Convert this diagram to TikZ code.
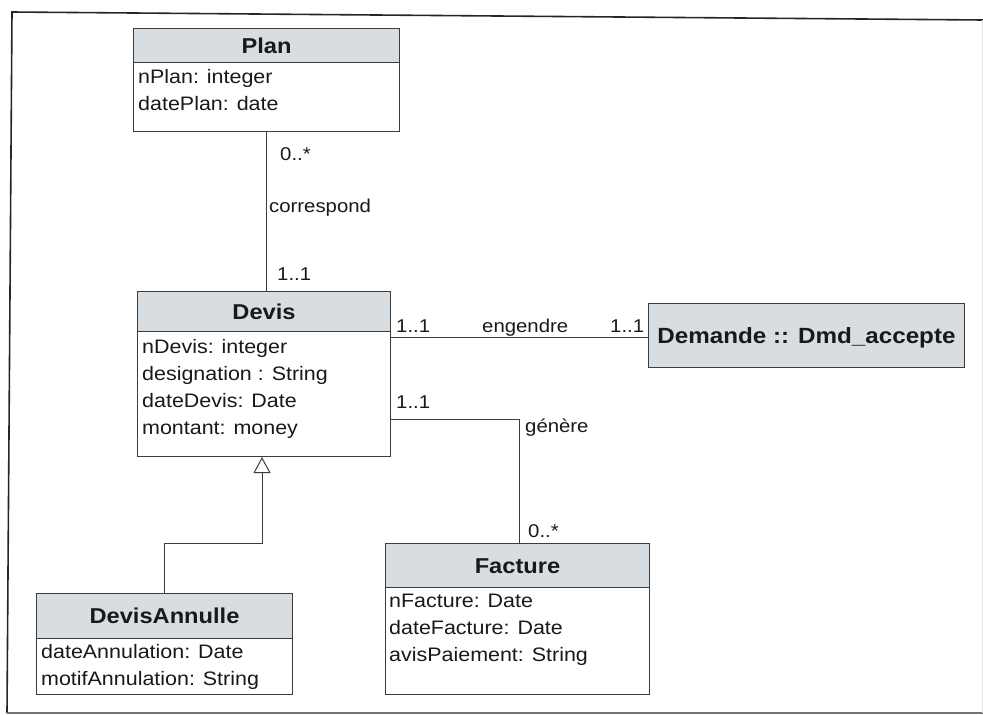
\documentclass[tikz,border=0pt]{standalone}
\usepackage{fontspec}
\setmainfont[FakeStretch=1.1]{Liberation Sans}
\usetikzlibrary{arrows.meta}
\definecolor{hdrfill}{RGB}{216,221,225}
\definecolor{umlline}{RGB}{60,60,60}
\definecolor{umltext}{RGB}{25,25,25}
% attribute compartment: one left-aligned line per attribute, baseline on the first line
\newcommand\attrlines[1]{\begin{tabular}[t]{@{}l@{}}#1\end{tabular}}

\begin{document}
\begin{tikzpicture}[x=1pt,y=-1pt,
  classhead/.style={draw=umlline, line width=1pt, fill=hdrfill, anchor=north west,
    inner sep=0pt, font=\fontsize{21.5}{26}\selectfont\bfseries, text=umltext,
    text height=15.4pt, text depth=0pt},
  classbody/.style={draw=umlline, line width=1pt, fill=white, anchor=north west, inner sep=0pt},
  attrs/.style={anchor=base west, inner sep=0pt, font=\fontsize{19.5}{27}\selectfont, text=umltext},
  rolelabel/.style={anchor=base west, inner sep=0pt, font=\fontsize{18.5}{22}\selectfont, text=umltext},
  assoc/.style={draw=umlline, line width=1pt},
]
\useasboundingbox (0,0) rectangle (983,715);

% outer frame
\draw[line width=1.6pt, black!85] (7,713) -- (12,12) -- (983,20);
\draw[line width=1.4pt, black!55] (7,713) -- (983,713);
\draw[line width=0.8pt, black!12] (982,20) -- (982,713);

% Plan
\node[classhead, minimum width=266pt, minimum height=34pt] (planhead) at (133,28) {Plan};
\node[classbody, minimum width=266pt, minimum height=69pt] (planbody) at (133,62) {};
\node[attrs] (planattr) at (138,83) {\attrlines{nPlan: integer\\datePlan: date}};

% Devis
\node[classhead, minimum width=253pt, minimum height=40pt] (dvhead) at (137,291) {Devis};
\node[classbody, minimum width=253pt, minimum height=125pt] (dvbody) at (137,331) {};
\node[attrs] (dvattr) at (142,353) {\attrlines{nDevis: integer\\designation : String\\dateDevis: Date\\montant: money}};

% Demande :: Dmd_accepte
\node[classhead, minimum width=316pt, minimum height=64pt,
  font=\fontsize{22}{26}\selectfont\bfseries] (demande) at (648,303) {Demande :: Dmd\_accepte};

% DevisAnnulle
\node[classhead, minimum width=256pt, minimum height=45pt] (dahead) at (36,593) {DevisAnnulle};
\node[classbody, minimum width=256pt, minimum height=56pt] (dabody) at (36,638) {};
\node[attrs] (daattr) at (41,658) {\attrlines{dateAnnulation: Date\\motifAnnulation: String}};

% Facture
\node[classhead, minimum width=264pt, minimum height=44pt] (fchead) at (385,543) {Facture};
\node[classbody, minimum width=264pt, minimum height=107pt] (fcbody) at (385,587) {};
\node[attrs] (fcattr) at (389,607) {\attrlines{nFacture: Date\\dateFacture: Date\\avisPaiement: String}};

% associations
\draw[assoc] (planbody.south) -- (planbody.south |- dvhead.north);
\draw[assoc] (dvbody.east |- 0,337) -- (demande.west |- 0,337);
\draw[assoc] (dvbody.east |- 0,419) -| (519,0 |- fchead.north);

% generalization DevisAnnulle -> Devis
\draw[assoc, -{Triangle[open, length=16pt, width=17pt, fill=white]}]
  (dahead.north) |- (262,543) -- (262,0 |- dvbody.south);

% association labels and multiplicities
\node[rolelabel] (corrTop) at (280,160) {0..*};
\node[rolelabel] (corrName) at (269,212) {correspond};
\node[rolelabel] (corrBot) at (277,280) {1..1};
\node[rolelabel] (engLeft) at (396,332) {1..1};
\node[rolelabel] (engName) at (482,332) {engendre};
\node[rolelabel] (engRight) at (610,332) {1..1};
\node[rolelabel] (genTop) at (396,408) {1..1};
\node[rolelabel] (genName) at (525,432) {génère};
\node[rolelabel] (genBot) at (528,537) {0..*};
\end{tikzpicture}
\end{document}
